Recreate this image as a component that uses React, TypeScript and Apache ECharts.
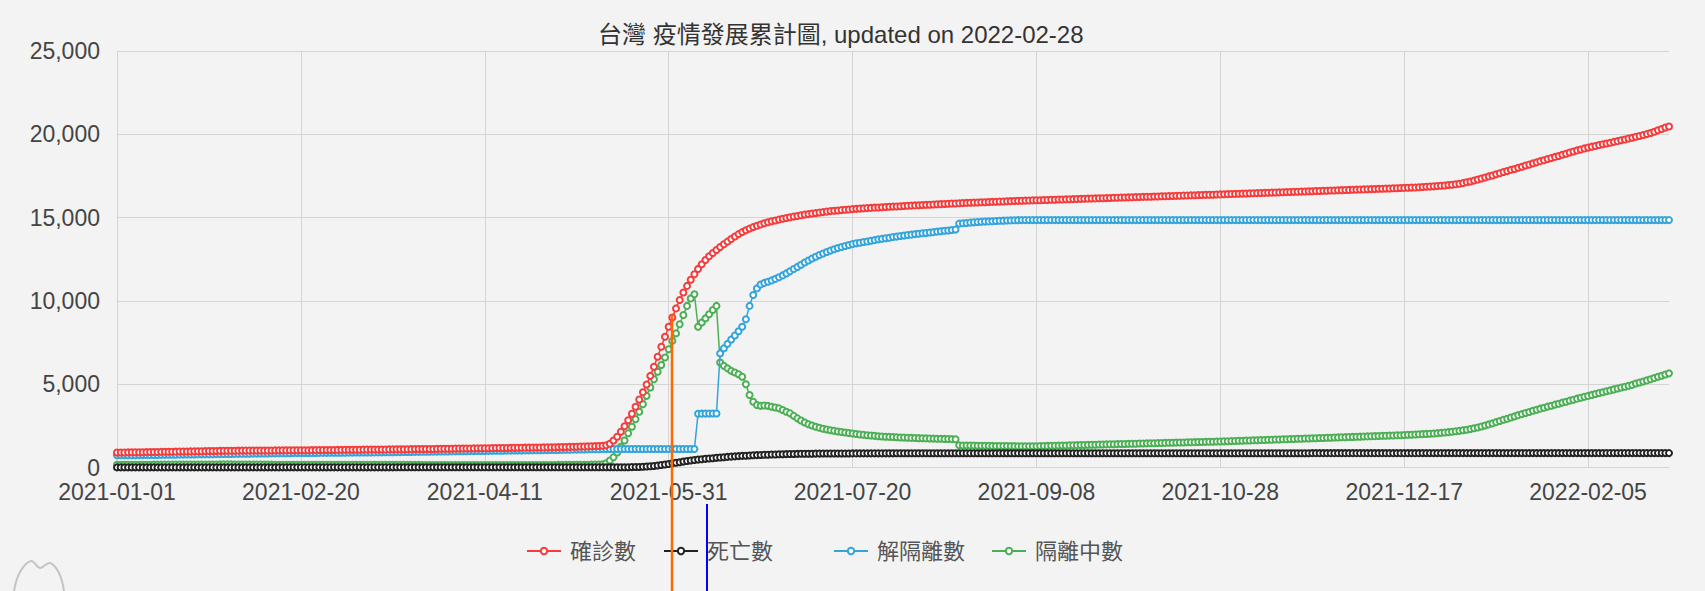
import React, { useEffect, useRef } from "react";
import * as echarts from "echarts";

const TITLE = "台灣 疫情發展累計圖, updated on 2022-02-28";
const SERIES_NAMES = ["確診數", "死亡數", "解隔離數", "隔離中數"];
const SERIES_COLORS = ["#f53b3b", "#222222", "#34a4dc", "#4caf55"];
const START_DATE = "2021-01-01";
const LABEL_EVERY = 50;
const Y_MIN = 0;
const Y_MAX = 25000;
const Y_STEP = 5000;

// 確診數 (cumulative confirmed), one value per day from 2021-01-01
const confirmed = [
  900,902,905,908,911,914,916,919,922,926,
  930,934,938,941,944,947,951,955,958,962,
  966,970,974,978,982,986,990,994,998,1002,
  1006,1008,1009,1011,1013,1014,1016,1017,1019,1021,
  1022,1024,1025,1027,1028,1030,1031,1033,1034,1036,
  1037,1039,1040,1042,1043,1045,1047,1049,1052,1054,
  1056,1058,1061,1063,1065,1067,1070,1072,1074,1076,
  1079,1081,1083,1085,1088,1090,1092,1094,1097,1099,
  1101,1103,1106,1108,1110,1112,1115,1117,1120,1123,
  1126,1129,1132,1135,1138,1141,1144,1147,1150,1153,
  1156,1159,1162,1165,1168,1171,1174,1177,1180,1184,
  1188,1191,1194,1197,1200,1203,1206,1209,1213,1217,
  1222,1228,1233,1238,1244,1250,1256,1262,1268,1275,
  1283,1292,1305,1330,1430,1620,1850,2150,2480,2840,
  3230,3650,4080,4520,4980,5500,6050,6650,7250,7850,
  8450,9000,9550,10050,10500,10900,11270,11600,11920,12200,
  12450,12680,12880,13060,13230,13400,13560,13720,13870,14010,
  14130,14240,14340,14430,14510,14590,14660,14720,14780,14830,
  14880,14930,14980,15020,15060,15100,15140,15180,15210,15240,
  15270,15300,15330,15360,15390,15410,15430,15450,15470,15490,
  15510,15524,15541,15553,15570,15582,15597,15608,15623,15634,
  15647,15661,15671,15685,15695,15709,15719,15732,15741,15754,
  15763,15776,15785,15798,15807,15820,15829,15842,15851,15864,
  15871,15882,15889,15900,15907,15918,15925,15936,15943,15954,
  15961,15971,15977,15987,15993,16003,16009,16019,16025,16035,
  16040,16046,16055,16060,16068,16073,16082,16090,16095,16103,
  16110,16116,16125,16131,16137,16146,16152,16158,16166,16171,
  16180,16188,16193,16201,16208,16214,16223,16229,16235,16244,
  16250,16256,16265,16271,16278,16286,16291,16299,16306,16312,
  16321,16327,16334,16342,16348,16355,16363,16369,16376,16384,
  16392,16399,16408,16415,16422,16431,16438,16446,16453,16461,
  16469,16476,16484,16492,16499,16507,16515,16522,16530,16538,
  16546,16553,16561,16569,16577,16584,16592,16600,16608,16615,
  16623,16631,16639,16647,16654,16662,16670,16678,16686,16693,
  16701,16709,16717,16725,16733,16741,16749,16757,16765,16774,
  16783,16792,16801,16811,16822,16834,16847,16861,16876,16892,
  16910,16930,16952,16976,17002,17030,17071,17122,17168,17227,
  17282,17348,17402,17473,17531,17604,17661,17733,17792,17864,
  17921,17994,18051,18124,18181,18254,18315,18388,18447,18515,
  18572,18643,18702,18773,18835,18908,18967,19033,19087,19153,
  19202,19258,19302,19355,19397,19451,19492,19546,19589,19643,
  19687,19743,19789,19848,19897,19961,20012,20083,20157,20243,
  20317,20403,20470,
];

// 死亡數 (cumulative deaths)
const deaths = [
  7,7,7,7,7,7,7,7,7,7,
  7,7,7,7,7,7,7,7,7,7,
  7,7,7,7,7,7,7,7,7,7,
  7,7,7,7,7,7,7,7,7,7,
  7,7,7,7,7,9,9,9,9,9,
  9,9,9,9,9,9,9,9,9,9,
  9,9,9,9,9,9,9,9,9,9,
  9,9,9,9,9,9,10,10,10,10,
  10,10,10,10,10,10,10,10,10,10,
  10,10,10,10,10,10,10,10,10,10,
  10,10,10,10,10,10,10,10,10,10,
  10,11,11,11,11,11,11,11,11,11,
  11,11,11,11,11,11,11,11,12,12,
  12,12,12,12,13,13,14,15,17,20,
  24,29,35,45,58,75,95,120,150,180,
  215,250,285,320,355,390,420,450,475,500,
  520,540,560,580,600,618,636,652,668,683,
  697,710,722,733,743,752,761,769,777,784,
  791,797,803,808,813,817,821,824,827,830,
  832,834,836,838,840,841,842,843,844,845,
  846,846,847,847,848,848,849,849,849,850,
  850,850,851,851,851,852,852,852,852,853,
  853,853,853,854,854,854,854,854,855,855,
  855,855,855,856,856,856,856,856,856,857,
  857,857,857,857,857,857,858,858,858,858,
  858,858,858,858,858,858,858,858,858,858,
  858,858,858,858,858,858,858,858,858,858,
  859,859,859,859,859,859,859,859,859,859,
  859,859,859,859,859,859,859,859,859,859,
  859,859,859,859,859,860,860,860,860,860,
  860,860,860,860,860,860,860,860,860,860,
  860,860,860,860,860,860,860,860,860,860,
  860,860,860,860,860,861,861,861,861,861,
  861,861,861,861,861,861,861,861,861,861,
  861,861,861,861,861,861,861,861,861,861,
  861,861,861,861,861,862,862,862,862,862,
  862,862,862,862,862,862,862,862,862,862,
  862,862,862,862,862,862,862,862,862,862,
  862,862,862,862,862,863,863,863,863,863,
  863,863,863,863,863,863,863,863,863,863,
  863,863,863,863,863,864,864,864,864,864,
  864,864,864,864,864,864,864,864,864,864,
  864,864,864,
];

// 解隔離數 (cumulative released from isolation)
const released = [
  730,731,733,735,738,740,742,745,747,750,
  752,755,758,760,763,766,769,772,775,778,
  781,784,787,790,793,796,799,802,805,808,
  811,814,817,820,823,826,829,832,835,838,
  841,844,847,850,853,856,858,860,862,864,
  866,868,870,872,874,876,878,880,882,884,
  886,888,890,892,894,896,898,900,902,904,
  906,908,910,913,916,919,922,925,928,931,
  934,937,940,943,946,949,952,955,958,961,
  964,967,970,973,976,979,982,985,988,991,
  994,997,1000,1003,1006,1009,1012,1015,1018,1021,
  1024,1027,1030,1033,1036,1039,1042,1045,1048,1051,
  1055,1059,1063,1067,1071,1075,1079,1083,1087,1091,
  1095,1099,1103,1105,1106,1106,1107,1107,1108,1108,
  1109,1109,1110,1110,1110,1111,1111,1111,1112,1112,
  1112,1113,1113,1113,1114,1114,1114,1115,3230,3232,
  3234,3236,3238,3240,6850,7150,7420,7680,7920,8180,
  8450,8900,9700,10350,10750,10980,11080,11150,11230,11320,
  11420,11530,11650,11780,11910,12040,12170,12300,12420,12540,
  12650,12750,12850,12940,13020,13100,13170,13240,13300,13360,
  13410,13455,13488,13534,13567,13612,13648,13693,13722,13764,
  13791,13833,13858,13894,13917,13953,13977,14008,14027,14058,
  14077,14108,14127,14158,14177,14208,14227,14258,14280,14640,
  14660,14680,14700,14715,14730,14745,14760,14772,14784,14796,
  14806,14816,14824,14832,14840,14846,14850,14850,14850,14850,
  14850,14850,14850,14850,14850,14850,14850,14850,14850,14850,
  14850,14850,14850,14850,14850,14850,14850,14850,14850,14850,
  14850,14850,14850,14850,14850,14850,14850,14850,14850,14850,
  14850,14850,14850,14850,14850,14850,14850,14850,14850,14850,
  14850,14850,14850,14850,14850,14850,14850,14850,14850,14850,
  14850,14850,14850,14850,14850,14850,14850,14850,14850,14850,
  14850,14850,14850,14850,14850,14850,14850,14850,14850,14850,
  14850,14850,14850,14850,14850,14850,14850,14850,14850,14850,
  14850,14850,14850,14850,14850,14850,14850,14850,14850,14850,
  14850,14850,14850,14850,14850,14850,14850,14850,14850,14850,
  14850,14850,14850,14850,14850,14850,14850,14850,14850,14850,
  14850,14850,14850,14850,14850,14850,14850,14850,14850,14850,
  14850,14850,14850,14850,14850,14850,14850,14850,14850,14850,
  14850,14850,14850,14850,14850,14850,14850,14850,14850,14850,
  14850,14850,14850,14850,14850,14850,14850,14850,14850,14850,
  14850,14850,14850,14850,14850,14850,14850,14850,14850,14850,
  14850,14850,14850,14850,14850,14850,14850,14850,14850,14850,
  14850,14850,14850,
];

// 隔離中數 (currently in isolation)
const isolating = [
  163,164,165,166,166,167,167,167,168,169,
  171,172,173,174,174,174,175,176,176,177,
  178,179,180,181,182,183,184,185,186,187,
  188,187,185,184,183,181,180,178,177,176,
  174,173,171,170,168,165,164,164,163,163,
  162,162,161,161,160,160,160,160,161,161,
  161,161,162,162,162,162,163,163,163,163,
  164,164,164,163,163,162,160,159,159,158,
  157,156,156,155,154,153,153,152,152,152,
  152,152,152,152,152,152,152,152,152,152,
  152,152,152,152,152,152,152,152,152,153,
  154,153,153,153,153,153,153,153,154,155,
  156,158,159,160,162,164,166,168,169,172,
  176,181,190,260,420,620,900,1250,1620,2050,
  2450,2900,3350,3800,4300,4800,5300,5750,6150,6600,
  7100,7600,8050,8600,9150,9700,10150,10400,8450,8700,
  8950,9200,9450,9700,6300,6100,5950,5800,5700,5600,
  5450,5000,4350,3950,3750,3700,3720,3700,3650,3600,
  3550,3450,3350,3250,3100,2950,2820,2700,2600,2520,
  2450,2390,2330,2280,2240,2200,2160,2130,2100,2070,
  2040,2010,1985,1960,1940,1920,1900,1880,1865,1850,
  1838,1826,1815,1805,1795,1786,1777,1769,1761,1754,
  1747,1740,1734,1728,1722,1716,1710,1704,1698,1330,
  1325,1320,1316,1312,1308,1305,1302,1299,1296,1293,
  1290,1288,1286,1284,1282,1280,1279,1278,1277,1276,
  1280,1285,1292,1296,1301,1309,1313,1320,1324,1331,
  1335,1341,1348,1352,1359,1363,1370,1376,1380,1387,
  1391,1398,1402,1409,1415,1419,1426,1430,1436,1443,
  1447,1453,1460,1464,1470,1477,1481,1487,1494,1498,
  1504,1511,1515,1521,1528,1532,1538,1545,1549,1556,
  1562,1570,1577,1585,1594,1600,1609,1616,1623,1632,
  1638,1647,1654,1661,1669,1676,1684,1692,1699,1707,
  1714,1722,1730,1737,1745,1752,1760,1768,1775,1783,
  1790,1798,1806,1813,1821,1828,1836,1844,1851,1859,
  1867,1874,1882,1890,1898,1906,1914,1922,1931,1940,
  1950,1960,1970,1980,1991,2003,2016,2030,2045,2061,
  2079,2099,2121,2145,2171,2200,2235,2270,2310,2355,
  2403,2462,2518,2587,2648,2722,2788,2862,2928,3002,
  3068,3142,3203,3272,3333,3402,3463,3532,3590,3654,
  3710,3774,3830,3894,3950,4014,4070,4132,4186,4247,
  4298,4357,4408,4467,4518,4577,4628,4687,4738,4797,
  4848,4907,4958,5042,5098,5167,5228,5302,5368,5442,
  5508,5582,5650,
];

const FONT = 'Arial, "Liberation Sans", "Noto Sans CJK TC", sans-serif';

function buildDates(start: string, n: number): string[] {
  const out: string[] = [];
  const [y, m, d] = start.split("-").map(Number);
  for (let i = 0; i < n; i++) {
    const dt = new Date(Date.UTC(y, m - 1, d + i));
    const mm = String(dt.getUTCMonth() + 1).padStart(2, "0");
    const dd = String(dt.getUTCDate()).padStart(2, "0");
    out.push(`${dt.getUTCFullYear()}-${mm}-${dd}`);
  }
  return out;
}

export default function App() {
  const ref = useRef<HTMLDivElement>(null);

  useEffect(() => {
    if (!ref.current) return;
    const chart = echarts.init(ref.current, null, { renderer: "svg" });
    const dates = buildDates(START_DATE, confirmed.length);
    const dataSets = [confirmed, deaths, released, isolating];
    const zs = [5, 4, 3, 2];

    const legendBase = {
      top: 540,
      padding: 0,
      itemWidth: 34,
      itemHeight: 8,
      textStyle: { fontSize: 22, color: "#555", fontFamily: FONT, padding: [0, 0, 0, 4] },
    };

    chart.setOption({
      animation: false,
      backgroundColor: "#f3f3f3",
      title: {
        text: TITLE,
        left: 598,
        top: 22,
        padding: 0,
        textStyle: { fontSize: 24, fontWeight: "normal", color: "#333", fontFamily: FONT },
      },
      legend: [
        { ...legendBase, data: SERIES_NAMES.slice(0, 2), left: 526, itemGap: 27 },
        { ...legendBase, data: SERIES_NAMES.slice(2, 4), left: 833, itemGap: 26 },
      ],
      grid: { left: 117, right: 36, top: 51, bottom: 123.5, outerBoundsMode: "none" },
      xAxis: {
        type: "category",
        data: dates,
        boundaryGap: false,
        axisLine: { show: true, lineStyle: { color: "#d4d4d4", width: 1 } },
        axisTick: { show: false },
        axisLabel: {
          interval: LABEL_EVERY - 1,
          margin: 13,
          fontSize: 23,
          color: "#444",
          fontFamily: FONT,
        },
        splitLine: { show: true, interval: LABEL_EVERY - 1, lineStyle: { color: "#d4d4d4", width: 1 } },
      },
      yAxis: {
        type: "value",
        min: Y_MIN,
        max: Y_MAX,
        interval: Y_STEP,
        axisLine: { show: true, lineStyle: { color: "#d4d4d4", width: 1 } },
        axisTick: { show: false },
        axisLabel: {
          margin: 17,
          fontSize: 23,
          color: "#444",
          fontFamily: FONT,
          padding: [0, 0, 5, 0],
          formatter: (v: number) => v.toLocaleString("en-US"),
        },
        splitLine: { show: true, lineStyle: { color: "#d4d4d4", width: 1 } },
      },
      series: SERIES_NAMES.map((name, i) => ({
        name,
        type: "line",
        data: dataSets[i],
        z: zs[i],
        symbol: "emptyCircle",
        symbolSize: 6,
        showAllSymbol: true,
        color: SERIES_COLORS[i],
        lineStyle: { width: 1.5, color: SERIES_COLORS[i] },
        itemStyle: { color: SERIES_COLORS[i], borderColor: SERIES_COLORS[i], borderWidth: 2.5 },
        silent: true,
      })),
      graphic: [
        {
          type: "line",
          z: 100,
          shape: { x1: 672, y1: 315, x2: 672, y2: 591 },
          style: { stroke: "#ff6a00", lineWidth: 2.5 },
        },
        {
          type: "line",
          z: 100,
          shape: { x1: 707, y1: 504, x2: 707, y2: 591 },
          style: { stroke: "#0000ff", lineWidth: 2 },
        },
        {
          type: "polyline",
          z: 100,
          shape: {
            points: [[14, 591], [20, 572], [31, 561], [40, 568], [50, 563], [59, 573], [64, 591]],
            smooth: 0.4,
          },
          style: { stroke: "#c4c4c4", lineWidth: 2, fill: "none" },
        },
      ],
    });

    return () => chart.dispose();
  }, []);

  return (
    <div
      ref={ref}
      style={{ position: "fixed", left: 0, top: 0, width: 1705, height: 591 }}
    />
  );
}
